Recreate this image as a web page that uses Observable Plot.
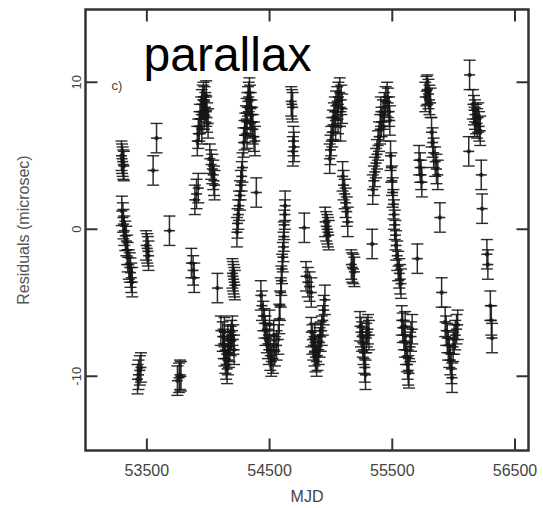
<!DOCTYPE html>
<html>
<head>
<meta charset="utf-8">
<script src="https://cdn.jsdelivr.net/npm/d3@7"></script>
<script src="https://cdn.jsdelivr.net/npm/@observablehq/plot@0.6"></script>
<style>
  html, body { margin: 0; padding: 0; background: #fff; }
</style>
</head>
<body>
<div id="chart"></div>
<script>
const mjd = [
  53293,53298,53303,53308,53313,
  53296,53305,53310,53316,53324,53333,53339,53344,53353,53361,53367,53373,53381,
  53424,53432,53443,53452,
  53494,53503,53508,53514,
  53551,53579,
  53684,
  53749,53763,53770,53778,
  53863,53877,53886,
  53891,53905,53919,
  53911,53919,53928,53933,53942,53948,53956,53962,53970,53976,53984,53990,53999,53984,53967,53948,
  54013,54024,54033,54041,54047,54052,
  54075,
  54103,54118,54126,54132,54140,54146,54154,54160,54169,54174,54183,54188,54197,54205,54211,54132,54160,
  54197,54202,54207,54212,54217,
  54234,54239,54245,54251,54259,54265,54273,54279,
  54288,54296,54302,54307,54313,54319,54324,54330,54336,54341,54347,54353,54358,54364,54373,54381,54316,54344,
  54392,
  54429,54438,54449,54458,54466,54477,54486,54494,54506,54514,54528,54543,54557,54571,54534,54500,
  54579,54585,54591,54596,54602,54608,54613,54616,54619,54625,54627,
  54676,54682,54688,54690,54695,54700,
  54783,
  54797,54812,54826,54840,
  54840,54849,54857,54866,54874,54883,54891,54900,54908,54917,54925,54934,54942,54951,54869,
  54953,54962,54970,54976,54982,
  54990,54996,55002,55010,55017,55024,55032,55041,55052,55061,55072,55084,55091,55038,55058,55078,
  55095,55103,55112,55120,55129,55137,
  55166,55174,55183,55191,
  55237,55245,55254,55259,55265,55271,55276,55282,55288,55293,55302,55310,
  55336,
  55341,55350,55358,55367,55375,55384,55392,55401,55412,55424,55435,55446,55458,55466,55475,55480,55407,55430,
  55486,55492,55497,55503,55509,55514,55520,55526,55531,55540,55548,55557,55565,55571,
  55577,55585,55594,55602,55611,55619,55625,55630,55636,55645,55653,55662,55605,
  55704,
  55718,55727,55735,55741,
  55769,55778,55786,55795,55803,55812,55820,55829,55837,55849,55860,55871,
  55888,
  55902,
  55931,55939,55948,55956,55965,55973,55982,55987,55996,56004,56013,56024,56033,
  56123,56130,
  56157,56166,56174,56183,56191,56200,56208,56217,56171,
  56225,56232,
  56271,56279,
  56299,56307,56313
];
const resid = [
  5.0,4.8,4.6,4.4,4.3,
  1.25,0.8,0.35,-0.1,-0.45,-0.8,-1.4,-1.9,-2.4,-2.6,-2.95,-3.3,-3.6,
  -10.2,-9.9,-9.6,-9.4,
  -1.1,-1.3,-1.5,-1.8,
  4.0,6.2,
  -0.1,
  -10.3,-10.1,-9.9,-10.0,
  -2.3,-2.8,-3.3,
  2.0,2.4,2.8,
  6.0,6.5,7.0,7.5,8.0,8.5,8.8,9.0,8.7,8.3,8.0,7.6,7.2,9.1,7.8,6.8,
  4.8,4.4,4.1,3.7,3.3,3.0,
  -4.0,
  -6.9,-7.3,-7.8,-8.3,-8.8,-9.2,-9.5,-8.9,-8.4,-8.0,-7.6,-7.2,-6.9,-7.5,-8.2,-7.0,-7.5,
  -3.0,-3.2,-3.4,-3.6,-3.8,
  -0.2,0.4,1.0,1.6,2.3,3.0,3.6,4.2,
  5.9,6.4,6.9,7.4,7.9,8.3,8.7,9.0,9.3,8.8,8.3,7.8,7.3,6.8,6.3,6.0,6.5,7.2,
  2.5,
  -4.5,-5.2,-5.9,-6.4,-6.9,-7.4,-7.8,-8.2,-8.6,-9.0,-8.8,-8.3,-7.9,-7.5,-7.2,-6.5,
  -6.1,-5.2,-4.3,-3.5,-2.7,-1.9,-1.2,-0.5,0.3,1.0,1.6,
  8.7,8.5,8.3,5.3,6.0,5.6,
  0.1,
  -3.2,-3.6,-3.9,-4.3,
  -7.0,-7.5,-7.9,-8.3,-8.7,-9.0,-8.6,-8.2,-7.7,-7.3,-6.9,-6.2,-5.5,-4.8,-7.4,
  0.5,0.2,0.0,-0.2,-0.4,
  4.8,5.4,6.0,6.6,7.1,7.6,8.0,8.4,8.7,9.0,9.3,8.8,8.2,7.0,7.5,7.0,
  3.6,3.0,2.4,1.8,1.2,0.5,
  -2.4,-2.6,-2.7,-2.9,
  -6.6,-7.0,-7.3,-7.7,-8.2,-8.8,-9.4,-9.9,-7.4,-7.0,-6.8,-7.2,
  -1.0,
  2.7,3.3,3.9,4.5,5.1,5.7,6.3,6.8,7.3,7.8,8.3,8.7,9.0,8.6,8.0,7.4,8.0,7.0,
  5.0,4.2,3.3,2.5,1.7,1.0,0.3,-0.4,-1.1,-1.8,-2.5,-3.0,-3.4,-3.7,
  -6.2,-6.7,-7.2,-7.7,-8.2,-8.7,-9.2,-9.6,-9.8,-8.0,-7.3,-6.8,-6.6,
  -2.0,
  4.7,4.2,3.7,3.2,
  9.0,9.4,9.5,9.2,8.8,8.6,6.6,5.9,5.2,4.6,4.1,3.7,
  0.8,
  -4.3,
  -6.3,-6.9,-7.4,-7.9,-8.4,-8.9,-9.5,-10.1,-8.0,-7.5,-7.2,-6.8,-6.5,
  5.3,10.5,
  8.5,8.1,7.8,7.5,7.2,7.6,7.0,6.7,7.3,
  3.7,1.4,
  -1.7,-2.4,
  -5.2,-6.2,-7.4
];
// Error bar half-length (microsec)
const errBar = 1.0;

const xTicks = [53500, 54500, 55500, 56500];
const yTicks = [-10, 0, 10];

const data = mjd.map((m, i) => ({mjd: m, r: resid[i], e: errBar}));

const FONT = "'Liberation Sans', Arial, Helvetica, sans-serif";
const INK = "#161616";

// custom symbol glyphs (pixel sized)
const capSym = {draw(c) { c.moveTo(-6, 0); c.lineTo(6, 0); }};
const midSym = {draw(c) { c.moveTo(-5.5, 0); c.lineTo(5.5, 0); }};
const tickUp = {draw(c) { c.moveTo(0, 0); c.lineTo(0, -12); }};
const tickDown = {draw(c) { c.moveTo(0, 0); c.lineTo(0, 12); }};
const tickRight = {draw(c) { c.moveTo(0, 0); c.lineTo(12, 0); }};
const tickLeft = {draw(c) { c.moveTo(0, 0); c.lineTo(-12, 0); }};

const axisInk = "#333";

const chart = Plot.plot({
  width: 543,
  height: 508,
  marginLeft: 85,
  marginRight: 15,
  marginTop: 9,
  marginBottom: 58,
  style: {fontFamily: FONT, background: "#fff", color: "#444"},
  x: {domain: [53000, 56610], axis: null},
  y: {domain: [-15.05, 14.95], axis: null},
  marks: [
    // error bars
    Plot.ruleX(data, {x: "mjd", y1: d => d.r - d.e, y2: d => d.r + d.e, stroke: INK, strokeWidth: 1.5, strokeOpacity: 0.9}),
    Plot.dot(data, {x: "mjd", y: d => d.r + d.e, symbol: capSym, r: 3, fill: "none", stroke: INK, strokeWidth: 1.4, strokeOpacity: 0.9}),
    Plot.dot(data, {x: "mjd", y: d => d.r - d.e, symbol: capSym, r: 3, fill: "none", stroke: INK, strokeWidth: 1.4, strokeOpacity: 0.9}),
    Plot.dot(data, {x: "mjd", y: "r", symbol: midSym, r: 3, fill: "none", stroke: INK, strokeWidth: 1.6, strokeOpacity: 0.9}),
    Plot.dot(data, {x: "mjd", y: "r", r: 2.2, fill: INK, stroke: "none", fillOpacity: 0.75}),
    // frame
    Plot.frame({stroke: axisInk, strokeWidth: 2.5}),
    // inward ticks, all four sides
    Plot.dot(xTicks, {x: d => d, frameAnchor: "bottom", symbol: tickUp, r: 3, fill: "none", stroke: axisInk, strokeWidth: 2}),
    Plot.dot(xTicks, {x: d => d, frameAnchor: "top", symbol: tickDown, r: 3, fill: "none", stroke: axisInk, strokeWidth: 2}),
    Plot.dot(yTicks, {y: d => d, frameAnchor: "left", symbol: tickRight, r: 3, fill: "none", stroke: axisInk, strokeWidth: 2}),
    Plot.dot(yTicks, {y: d => d, frameAnchor: "right", symbol: tickLeft, r: 3, fill: "none", stroke: axisInk, strokeWidth: 2}),
    // tick labels
    Plot.text(xTicks, {x: d => d, frameAnchor: "bottom", dy: 20, text: d => String(d), lineAnchor: "middle", fontSize: 16, fill: "#444", style: "letter-spacing:0.6px"}),
    Plot.text(yTicks, {y: d => d, frameAnchor: "left", dx: -9, rotate: -90, text: d => String(d), lineAnchor: "middle", textAnchor: "middle", fontSize: 13, fill: "#444"}),
    // axis titles
    Plot.text(["MJD"], {frameAnchor: "bottom", dy: 46, text: d => d, lineAnchor: "middle", fontSize: 16, fill: "#444"}),
    Plot.text(["Residuals (microsec)"], {frameAnchor: "left", dx: -62, rotate: -90, text: d => d, lineAnchor: "middle", textAnchor: "middle", fontSize: 16, fill: "#555"}),
    // panel annotations
    Plot.text(["c)"], {frameAnchor: "top-left", dx: 26, dy: 76, text: d => d, lineAnchor: "middle", textAnchor: "start", fontSize: 13, fill: "#444"}),
    Plot.text(["parallax"], {frameAnchor: "top-left", dx: 58, dy: 61, text: d => d, lineAnchor: "bottom", textAnchor: "start", fontSize: 48, fill: "#000"})
  ]
});

document.getElementById("chart").appendChild(chart);
</script>
</body>
</html>
